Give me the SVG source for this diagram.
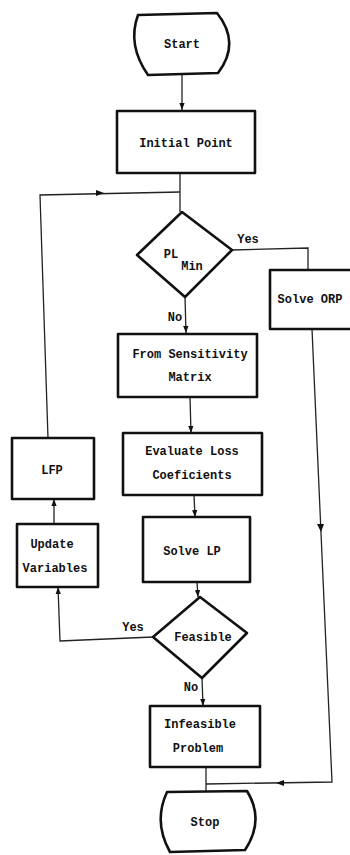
<svg xmlns="http://www.w3.org/2000/svg" width="350" height="855" viewBox="0 0 350 855">
<style>
.shape{fill:#fff;stroke:#111;stroke-width:2.6;stroke-linejoin:round}
.line{fill:none;stroke:#222;stroke-width:1.3}
.t{font-family:"Liberation Mono","DejaVu Sans Mono",monospace;font-size:12px;font-weight:bold;fill:#111;text-anchor:middle}
.ah{fill:#111}
</style>
<defs>
<marker id="arr" viewBox="0 0 8 8" refX="8" refY="4" markerWidth="7" markerHeight="7" markerUnits="userSpaceOnUse" orient="auto">
<path d="M0,1 L8,4 L0,7 Z" fill="#111"/>
</marker>
</defs>
<rect width="350" height="855" fill="#fff"/>
<g id="connectors">
<path class="line" d="M182,75 L182,110" marker-end="url(#arr)"/>
<path class="line" d="M180,173 L180,212"/>
<path class="line" d="M48,438 L40,195 L180,192"/>
<path class="ah" d="M96,190 L104,193 L96,196 Z"/>
<path class="line" d="M232,250 L308,248 L308,270"/>
<path class="line" d="M185,297 L186,333" marker-end="url(#arr)"/>
<path class="line" d="M312,329 L332,782 L206,784"/>
<path class="ah" d="M317,524 L321,532 L324,524 Z"/>
<path class="ah" d="M284,780 L276,783 L284,786 Z"/>
<path class="line" d="M190,397 L191,433" marker-end="url(#arr)"/>
<path class="line" d="M194,495 L195,517" marker-end="url(#arr)"/>
<path class="line" d="M197,582 L198,597" marker-end="url(#arr)"/>
<path class="line" d="M153,637 L60,641 L58,587" marker-end="url(#arr)"/>
<path class="line" d="M54,524 L54,499" marker-end="url(#arr)"/>
<path class="line" d="M202,678 L203,706" marker-end="url(#arr)"/>
<path class="line" d="M206,767 L206,792"/>
<text class="t" x="248" y="243">Yes</text>
<text class="t" x="175" y="321">No</text>
<text class="t" x="133" y="631">Yes</text>
<text class="t" x="191" y="691">No</text>
</g>
<g id="start">
<path class="shape" d="M138,15 L217,13 Q241,43 218,73 L148,75 Q127,45 138,15 Z"/>
<text class="t" x="182" y="48">Start</text>
</g>
<g id="initial-point">
<rect class="shape" x="117" y="111" width="138" height="62"/>
<text class="t" x="186" y="147">Initial Point</text>
</g>
<g id="pl-min">
<path class="shape" d="M182,212 L232,250 L185,297 L137,255 Z"/>
<text class="t" x="171" y="258">PL</text>
<text class="t" x="192" y="270">Min</text>
</g>
<g id="solve-orp">
<rect class="shape" x="270" y="270" width="82" height="59"/>
<text class="t" x="310" y="303">Solve ORP</text>
</g>
<g id="sensitivity">
<rect class="shape" x="118" y="334" width="139" height="63"/>
<text class="t" x="190" y="358">From Sensitivity</text>
<text class="t" x="190" y="381">Matrix</text>
</g>
<g id="evaluate">
<rect class="shape" x="123" y="433" width="139" height="62"/>
<text class="t" x="192" y="455">Evaluate Loss</text>
<text class="t" x="192" y="479">Coeficients</text>
</g>
<g id="solve-lp">
<rect class="shape" x="143" y="517" width="107" height="65"/>
<text class="t" x="192" y="555">Solve LP</text>
</g>
<g id="feasible">
<path class="shape" d="M200,597 L247,633 L202,678 L153,637 Z"/>
<text class="t" x="203" y="641">Feasible</text>
</g>
<g id="lfp">
<rect class="shape" x="12" y="438" width="82" height="61"/>
<text class="t" x="52" y="474">LFP</text>
</g>
<g id="update-variables">
<rect class="shape" x="17" y="524" width="81" height="63"/>
<text class="t" x="52" y="548">Update</text>
<text class="t" x="55" y="572">Variables</text>
</g>
<g id="infeasible">
<rect class="shape" x="150" y="706" width="110" height="61"/>
<text class="t" x="200" y="728">Infeasible</text>
<text class="t" x="198" y="752">Problem</text>
</g>
<g id="stop">
<path class="shape" d="M167,792 L247,791 Q265,820 245,850 L170,852 Q153,822 167,792 Z"/>
<text class="t" x="205" y="826">Stop</text>
</g>
</svg>
